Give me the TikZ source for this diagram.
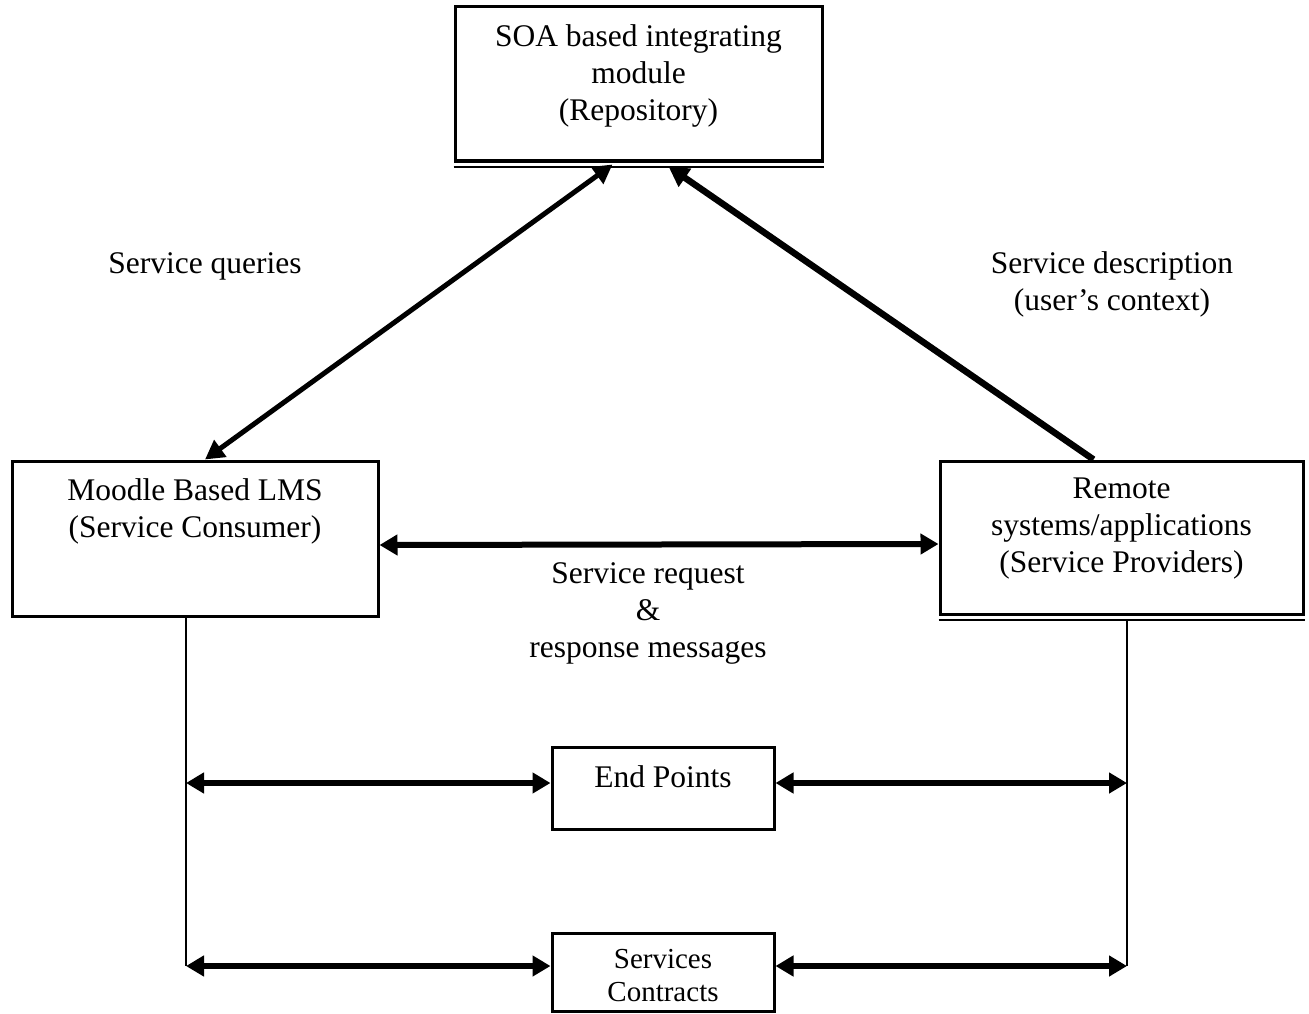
\documentclass[tikz,border=0pt]{standalone}
\usepackage{fontspec}
\setmainfont{Liberation Serif}
\usetikzlibrary{arrows.meta,positioning,calc}
\begin{document}
\begin{tikzpicture}[x=1pt,y=-1pt,
  box/.style={draw,line width=3pt,inner sep=0pt},
  txt/.style={align=center,font=\fontsize{31.5}{37}\selectfont,inner sep=0pt},
  smalltxt/.style={align=center,font=\fontsize{29}{33}\selectfont,inner sep=0pt},
  thickarrow/.style={line width=6pt,{Triangle[length=18pt,width=20pt]}-{Triangle[length=18pt,width=20pt]}},
  thinline/.style={line width=1.8pt}
]
\useasboundingbox (0,0) rectangle (1309,1014);
% boxes
\node[box,minimum width=367pt,minimum height=154pt] (repo) at (638.5,84) {};
\node[box,minimum width=366pt,minimum height=155pt] (lms) at (195,538.5) {};
\node[box,minimum width=363pt,minimum height=153pt] (rsp) at (1121.5,537.5) {};
\node[box,minimum width=222pt,minimum height=82pt] (ep) at (663,788) {};
\node[box,minimum width=222pt,minimum height=78pt] (sc) at (663,972) {};
% double bottom lines
\draw[line width=2pt] ([yshift=-4.5pt]repo.south west) -- ([yshift=-4.5pt]repo.south east);
\draw[line width=2pt] ([yshift=-4pt]rsp.south west) -- ([yshift=-4pt]rsp.south east);
% texts
\node[txt] (repot) at (638.5,76) {SOA based integrating\\module\\(Repository)};
\node[txt] (lmst) at (195,511) {Moodle Based LMS\\(Service Consumer)};
\node[txt] (rspt) at (1121.5,529) {Remote\\systems/applications\\(Service Providers)};
\node[txt] (ept) at (663,777) {End Points};
\node[smalltxt] (sct) at (663,976) {Services\\Contracts};
% labels
\node[txt] (lq) at (205,266) {Service queries};
\node[txt] (ld) at (1112,284) {Service description\\(user’s context)};
\node[txt] (lr) at (648,613) {Service request\\\&\\response messages};
% main arrows
\draw[line width=5pt,{Triangle[length=19pt,width=20pt]}-{Triangle[length=19pt,width=20pt]}]
  ([xshift=10pt]lms.north) -- ([xshift=-26pt,yshift=-2pt]repo.south);
\draw[line width=6.5pt,-{Triangle[length=20pt,width=21pt]}]
  ([xshift=-28pt]rsp.north) -- ([xshift=30pt,yshift=-4pt]repo.south);
\draw[thickarrow] ([yshift=-6.5pt]lms.east) -- ([yshift=-6.5pt]rsp.west);
% vertical lines
\coordinate (l1) at ([xshift=-9pt]lms.south);
\coordinate (r1) at ([xshift=5.5pt]rsp.south);
\coordinate (l2) at (l1 |- 0,783);
\coordinate (r2) at (r1 |- 0,783);
\coordinate (l3) at (l1 |- 0,966);
\coordinate (r3) at (r1 |- 0,966);
\draw[thinline] (l1) -- (l3);
\draw[thinline] ([yshift=-4pt]r1) -- (r3);
% lower arrows
\draw[thickarrow] (l2) -- (ep.west |- l2);
\draw[thickarrow] (ep.east |- r2) -- (r2);
\draw[thickarrow] (l3) -- (sc.west |- l3);
\draw[thickarrow] (sc.east |- r3) -- (r3);
\end{tikzpicture}
\end{document}
